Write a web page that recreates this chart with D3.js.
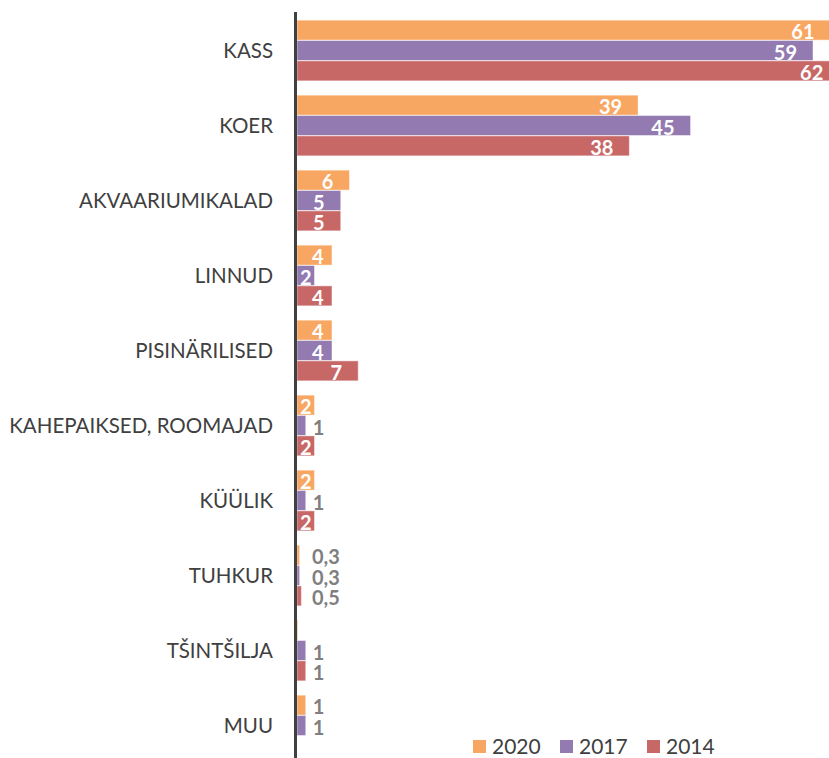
<!DOCTYPE html>
<html><head><meta charset="utf-8">
<script src="https://cdn.jsdelivr.net/npm/d3@7"></script>
<style>html,body{margin:0;padding:0;background:#fff;}svg{display:block;}</style>
</head><body>
<script>
const categories = ["KASS","KOER","AKVAARIUMIKALAD","LINNUD","PISINÄRILISED","KAHEPAIKSED, ROOMAJAD","KÜÜLIK","TUHKUR","TŠINTŠILJA","MUU"];
const seriesNames = ["2020","2017","2014"];
const values2020 = [61, 39, 6, 4, 4, 2, 2, 0.3, 0.1, 1];
const values2017 = [59, 45, 5, 2, 4, 1, 1, 0.3, 1, 1];
const values2014 = [62, 38, 5, 4, 7, 2, 2, 0.5, 1, null];
const colors = ["#F8A762", "#937AB0", "#C86866"];

const W = 829, H = 758;
const svg = d3.select("body").append("svg").attr("width", W).attr("height", H);
const font = "Lato, 'Open Sans', sans-serif";

const x0 = 297;
const x = d3.scaleLinear().domain([0, 59]).range([x0, 813]);
const y = d3.scaleBand().domain(categories).range([13, 763]).paddingInner(0.18).paddingOuter(0.09);
const yInner = d3.scaleBand().domain(seriesNames).range([0, y.bandwidth()]).padding(0.02);

const allSeries = [values2020, values2017, values2014];
const data = [];
categories.forEach((c, i) => {
  seriesNames.forEach((s, j) => {
    const v = allSeries[j][i];
    if (v != null) data.push({cat: c, ser: s, v, color: colors[j]});
  });
});

// bars
svg.append("g").selectAll("rect").data(data).join("rect")
  .attr("x", x0)
  .attr("y", d => y(d.cat) + yInner(d.ser))
  .attr("width", d => Math.max(0.8, x(d.v) - x0))
  .attr("height", yInner.bandwidth())
  .attr("fill", d => d.color)
  .attr("stroke", "rgba(255,255,255,0.45)")
  .attr("stroke-width", 1);

// labels
const fmt = v => String(v).replace(".", ",");
const lg = svg.append("g");
data.filter(d => d.v >= 0.2).forEach(d => {
  const barEnd = x(d.v);
  const cy = y(d.cat) + yInner(d.ser) + yInner.bandwidth() / 2;
  const t = lg.append("text")
    .attr("font-family", font).attr("font-weight", 700).attr("font-size", 20)
    .attr("dominant-baseline", "central")
    .attr("y", cy + 1)
    .text(fmt(d.v));
  const tw = t.node().getComputedTextLength();
  if (d.v >= 2) {
    let tl = barEnd - 16 - tw;
    if (tl < x0 + 15) tl = x0 + 15;
    if (tl + tw > barEnd - 2) tl = (x0 + barEnd) / 2 - tw / 2;
    t.attr("x", tl).attr("fill", "#ffffff");
  } else {
    t.attr("x", Math.max(barEnd + 7, 312)).attr("fill", "#7F7F7F");
  }
});

// axis line
svg.append("line").attr("x1", 295.5).attr("x2", 295.5).attr("y1", 12).attr("y2", H)
  .attr("stroke", "#404040").attr("stroke-width", 3);

// category labels
const yAxis = d3.axisLeft(y).tickSize(0).tickPadding(0);
const ga = svg.append("g").attr("transform", "translate(273,0)").call(yAxis);
ga.select(".domain").remove();
ga.selectAll("text").attr("font-family", font).attr("font-size", 20.5).attr("fill", "#404040").attr("dy", "0.35em");

// legend
const legX = [473, 560, 647];
const leg = svg.append("g");
seriesNames.forEach((s, j) => {
  leg.append("rect").attr("x", legX[j]).attr("y", 740).attr("width", 13).attr("height", 13).attr("fill", colors[j]);
  leg.append("text").attr("x", legX[j] + 19).attr("y", 746.5).attr("dy", "0.35em")
    .attr("font-family", font).attr("font-size", 21).attr("fill", "#404040").text(s);
});
</script>
</body></html>
